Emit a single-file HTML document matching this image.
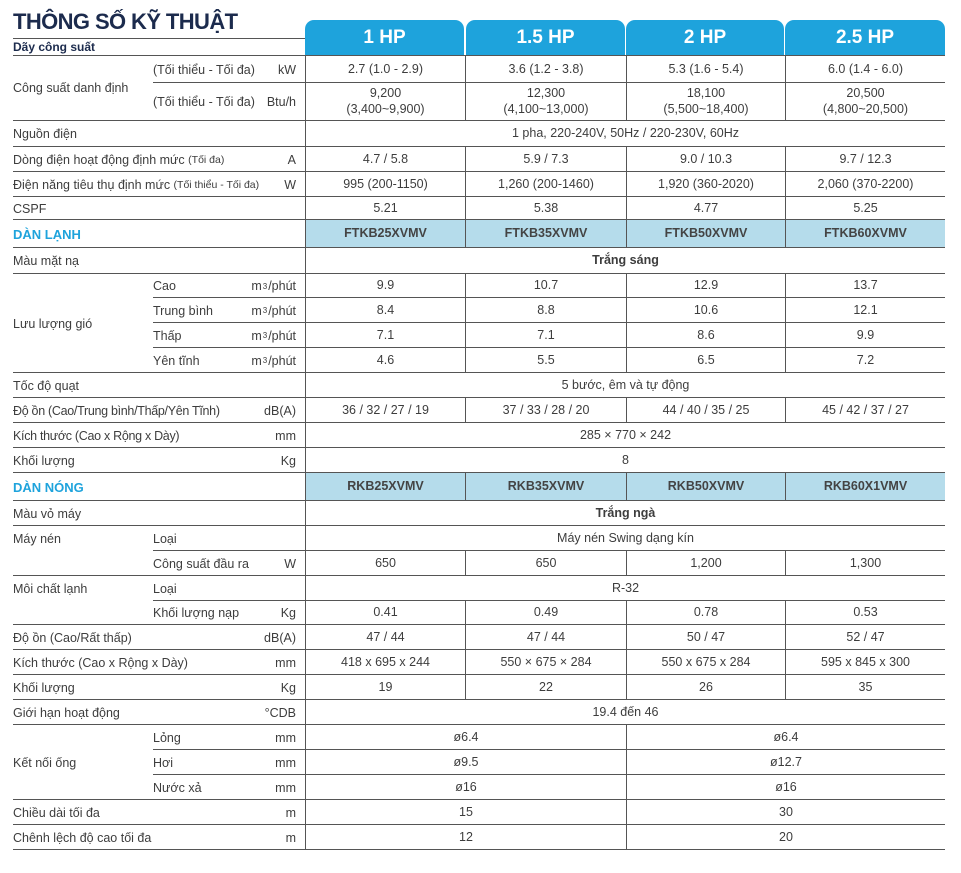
<!DOCTYPE html>
<html><head><meta charset="utf-8">
<style>
*{margin:0;padding:0;box-sizing:border-box}
body{width:961px;height:873px;background:#fff;position:relative;font-family:"Liberation Sans",sans-serif;color:#3d3d3d;font-size:12.5px;overflow:hidden}
div{position:absolute;white-space:nowrap}
.h{height:1px;background:#555;right:16px}
.f{left:13px}.s{left:153px}
.c{display:flex;align-items:center;justify-content:center;border-left:1px solid #555;text-align:center;line-height:1.25;padding-top:1px}
.a{left:305px;width:160px}.b{left:465px;width:161px}.d{left:626px;width:159px}.e{left:785px;width:160px}
.all{left:305px;width:640px}.h1{left:305px;width:321px}.h2{left:626px;width:319px}
.l{left:13px;display:flex;align-items:center;padding-top:1px}
.sl{left:153px;display:flex;align-items:center;padding-top:1px}
.u{right:665px;display:flex;align-items:center;padding-top:1px}
.m{background:#b5dceb;font-weight:bold;color:#444}
.hd{top:20px;height:35px;background:#1ea3dc;color:#fff;font-weight:bold;font-size:19px;display:flex;align-items:center;justify-content:center;border-radius:9px 9px 0 0}
.sec{color:#1ea3dc;font-weight:bold;font-size:13px}
sup{font-size:8px;vertical-align:6px;margin:0 1px}
small{font-size:10.5px}
</style></head><body>
<div style="left:13px;top:9px;font-size:22px;font-weight:bold;color:#1c2b4d;letter-spacing:-0.6px">THÔNG SỐ KỸ THUẬT</div>
<div style="left:13px;top:40px;font-size:12px;font-weight:bold;color:#1c2b4d">Dãy công suất</div>
<div class="h" style="left:13px;width:292px;top:38px"></div>
<div class="hd" style="left:305px;width:159px">1 HP</div>
<div class="hd" style="left:466px;width:159px">1.5 HP</div>
<div class="hd" style="left:626px;width:158px">2 HP</div>
<div class="hd" style="left:785px;width:160px">2.5 HP</div>

<div class="h f" style="top:55px"></div>
<div class="h s" style="top:82px"></div>
<div class="h f" style="top:120px"></div>
<div class="h f" style="top:146px"></div>
<div class="h f" style="top:171px"></div>
<div class="h f" style="top:196px"></div>
<div class="h f" style="top:219px"></div>
<div class="h f" style="top:247px"></div>
<div class="h f" style="top:273px"></div>
<div class="h s" style="top:297px"></div>
<div class="h s" style="top:322px"></div>
<div class="h s" style="top:347px"></div>
<div class="h f" style="top:372px"></div>
<div class="h f" style="top:397px"></div>
<div class="h f" style="top:422px"></div>
<div class="h f" style="top:447px"></div>
<div class="h f" style="top:472px"></div>
<div class="h f" style="top:500px"></div>
<div class="h f" style="top:525px"></div>
<div class="h s" style="top:550px"></div>
<div class="h f" style="top:575px"></div>
<div class="h s" style="top:600px"></div>
<div class="h f" style="top:624px"></div>
<div class="h f" style="top:649px"></div>
<div class="h f" style="top:674px"></div>
<div class="h f" style="top:699px"></div>
<div class="h f" style="top:724px"></div>
<div class="h s" style="top:749px"></div>
<div class="h s" style="top:774px"></div>
<div class="h f" style="top:799px"></div>
<div class="h f" style="top:824px"></div>
<div class="h f" style="top:849px"></div>

<div class="l" style="top:55px;height:65px">Công suất danh định</div>
<div class="sl" style="top:56px;height:26px">(Tối thiểu - Tối đa)</div><div class="u" style="top:56px;height:26px">kW</div>
<div class="sl" style="top:83px;height:37px">(Tối thiểu - Tối đa)</div><div class="u" style="top:83px;height:37px">Btu/h</div>
<div class="l" style="top:121px;height:25px">Nguồn điện</div>
<div class="l" style="top:147px;height:24px">Dòng điện hoạt động định mức&nbsp; <small>(Tối đa)</small></div><div class="u" style="top:147px;height:24px">A</div>
<div class="l" style="top:172px;height:24px">Điện năng tiêu thụ định mức&nbsp;<small>(Tối thiểu - Tối đa)</small></div><div class="u" style="top:172px;height:24px">W</div>
<div class="l" style="top:197px;height:22px">CSPF</div>
<div class="l sec" style="top:220px;height:27px">DÀN LẠNH</div>
<div class="l" style="top:248px;height:25px">Màu mặt nạ</div>
<div class="l" style="top:274px;height:98px">Lưu lượng gió</div>
<div class="sl" style="top:274px;height:23px">Cao</div><div class="u" style="top:274px;height:23px">m<sup>3</sup>/phút</div>
<div class="sl" style="top:298px;height:24px">Trung bình</div><div class="u" style="top:298px;height:24px">m<sup>3</sup>/phút</div>
<div class="sl" style="top:323px;height:24px">Thấp</div><div class="u" style="top:323px;height:24px">m<sup>3</sup>/phút</div>
<div class="sl" style="top:348px;height:24px">Yên tĩnh</div><div class="u" style="top:348px;height:24px">m<sup>3</sup>/phút</div>
<div class="l" style="top:373px;height:24px">Tốc độ quạt</div>
<div class="l" style="top:398px;height:24px;letter-spacing:-0.3px">Độ ồn (Cao/Trung bình/Thấp/Yên Tĩnh)</div><div class="u" style="top:398px;height:24px">dB(A)</div>
<div class="l" style="top:423px;height:24px;letter-spacing:-0.3px">Kích thước (Cao x Rộng x Dày)</div><div class="u" style="top:423px;height:24px">mm</div>
<div class="l" style="top:448px;height:24px">Khối lượng</div><div class="u" style="top:448px;height:24px">Kg</div>
<div class="l sec" style="top:473px;height:27px">DÀN NÓNG</div>
<div class="l" style="top:501px;height:24px">Màu vỏ máy</div>
<div class="l" style="top:526px;height:24px">Máy nén</div>
<div class="sl" style="top:526px;height:24px">Loại</div>
<div class="sl" style="top:551px;height:24px">Công suất đầu ra</div><div class="u" style="top:551px;height:24px">W</div>
<div class="l" style="top:576px;height:24px">Môi chất lạnh</div>
<div class="sl" style="top:576px;height:24px">Loại</div>
<div class="sl" style="top:601px;height:23px">Khối lượng nạp</div><div class="u" style="top:601px;height:23px">Kg</div>
<div class="l" style="top:625px;height:24px">Độ ồn (Cao/Rất thấp)</div><div class="u" style="top:625px;height:24px">dB(A)</div>
<div class="l" style="top:650px;height:24px">Kích thước (Cao x Rộng x Dày)</div><div class="u" style="top:650px;height:24px">mm</div>
<div class="l" style="top:675px;height:24px">Khối lượng</div><div class="u" style="top:675px;height:24px">Kg</div>
<div class="l" style="top:700px;height:24px">Giới hạn hoạt động</div><div class="u" style="top:700px;height:24px">°CDB</div>
<div class="l" style="top:725px;height:74px">Kết nối ống</div>
<div class="sl" style="top:725px;height:24px">Lỏng</div><div class="u" style="top:725px;height:24px">mm</div>
<div class="sl" style="top:750px;height:24px">Hơi</div><div class="u" style="top:750px;height:24px">mm</div>
<div class="sl" style="top:775px;height:24px">Nước xả</div><div class="u" style="top:775px;height:24px">mm</div>
<div class="l" style="top:800px;height:24px">Chiều dài tối đa</div><div class="u" style="top:800px;height:24px">m</div>
<div class="l" style="top:825px;height:24px">Chênh lệch độ cao tối đa</div><div class="u" style="top:825px;height:24px">m</div>

<div class="c a" style="top:56px;height:26px">2.7 (1.0 - 2.9)</div><div class="c b" style="top:56px;height:26px">3.6 (1.2 - 3.8)</div><div class="c d" style="top:56px;height:26px">5.3 (1.6 - 5.4)</div><div class="c e" style="top:56px;height:26px">6.0 (1.4 - 6.0)</div>
<div class="c a" style="top:83px;height:37px">9,200<br>(3,400~9,900)</div><div class="c b" style="top:83px;height:37px">12,300<br>(4,100~13,000)</div><div class="c d" style="top:83px;height:37px">18,100<br>(5,500~18,400)</div><div class="c e" style="top:83px;height:37px">20,500<br>(4,800~20,500)</div>
<div class="c all" style="top:121px;height:25px">1 pha, 220-240V, 50Hz / 220-230V, 60Hz</div>
<div class="c a" style="top:147px;height:24px">4.7 / 5.8</div><div class="c b" style="top:147px;height:24px">5.9 / 7.3</div><div class="c d" style="top:147px;height:24px">9.0 / 10.3</div><div class="c e" style="top:147px;height:24px">9.7 / 12.3</div>
<div class="c a" style="top:172px;height:24px">995 (200-1150)</div><div class="c b" style="top:172px;height:24px">1,260 (200-1460)</div><div class="c d" style="top:172px;height:24px">1,920 (360-2020)</div><div class="c e" style="top:172px;height:24px">2,060 (370-2200)</div>
<div class="c a" style="top:197px;height:22px">5.21</div><div class="c b" style="top:197px;height:22px">5.38</div><div class="c d" style="top:197px;height:22px">4.77</div><div class="c e" style="top:197px;height:22px">5.25</div>
<div class="c a m" style="top:220px;height:27px">FTKB25XVMV</div><div class="c b m" style="top:220px;height:27px">FTKB35XVMV</div><div class="c d m" style="top:220px;height:27px">FTKB50XVMV</div><div class="c e m" style="top:220px;height:27px">FTKB60XVMV</div>
<div class="c all" style="top:248px;height:25px;font-weight:bold">Trắng sáng</div>
<div class="c a" style="top:274px;height:23px">9.9</div><div class="c b" style="top:274px;height:23px">10.7</div><div class="c d" style="top:274px;height:23px">12.9</div><div class="c e" style="top:274px;height:23px">13.7</div>
<div class="c a" style="top:298px;height:24px">8.4</div><div class="c b" style="top:298px;height:24px">8.8</div><div class="c d" style="top:298px;height:24px">10.6</div><div class="c e" style="top:298px;height:24px">12.1</div>
<div class="c a" style="top:323px;height:24px">7.1</div><div class="c b" style="top:323px;height:24px">7.1</div><div class="c d" style="top:323px;height:24px">8.6</div><div class="c e" style="top:323px;height:24px">9.9</div>
<div class="c a" style="top:348px;height:24px">4.6</div><div class="c b" style="top:348px;height:24px">5.5</div><div class="c d" style="top:348px;height:24px">6.5</div><div class="c e" style="top:348px;height:24px">7.2</div>
<div class="c all" style="top:373px;height:24px">5 bước, êm và tự động</div>
<div class="c a" style="top:398px;height:24px">36 / 32 / 27 / 19</div><div class="c b" style="top:398px;height:24px">37 / 33 / 28 / 20</div><div class="c d" style="top:398px;height:24px">44 / 40 / 35 / 25</div><div class="c e" style="top:398px;height:24px">45 / 42 / 37 / 27</div>
<div class="c all" style="top:423px;height:24px">285 × 770 × 242</div>
<div class="c all" style="top:448px;height:24px">8</div>
<div class="c a m" style="top:473px;height:27px">RKB25XVMV</div><div class="c b m" style="top:473px;height:27px">RKB35XVMV</div><div class="c d m" style="top:473px;height:27px">RKB50XVMV</div><div class="c e m" style="top:473px;height:27px">RKB60X1VMV</div>
<div class="c all" style="top:501px;height:24px;font-weight:bold">Trắng ngà</div>
<div class="c all" style="top:526px;height:24px">Máy nén Swing dạng kín</div>
<div class="c a" style="top:551px;height:24px">650</div><div class="c b" style="top:551px;height:24px">650</div><div class="c d" style="top:551px;height:24px">1,200</div><div class="c e" style="top:551px;height:24px">1,300</div>
<div class="c all" style="top:576px;height:24px">R-32</div>
<div class="c a" style="top:601px;height:23px">0.41</div><div class="c b" style="top:601px;height:23px">0.49</div><div class="c d" style="top:601px;height:23px">0.78</div><div class="c e" style="top:601px;height:23px">0.53</div>
<div class="c a" style="top:625px;height:24px">47 / 44</div><div class="c b" style="top:625px;height:24px">47 / 44</div><div class="c d" style="top:625px;height:24px">50 / 47</div><div class="c e" style="top:625px;height:24px">52 / 47</div>
<div class="c a" style="top:650px;height:24px">418 x 695 x 244</div><div class="c b" style="top:650px;height:24px">550 × 675 × 284</div><div class="c d" style="top:650px;height:24px">550 x 675 x 284</div><div class="c e" style="top:650px;height:24px">595 x 845 x 300</div>
<div class="c a" style="top:675px;height:24px">19</div><div class="c b" style="top:675px;height:24px">22</div><div class="c d" style="top:675px;height:24px">26</div><div class="c e" style="top:675px;height:24px">35</div>
<div class="c all" style="top:700px;height:24px">19.4 đến 46</div>
<div class="c h1" style="top:725px;height:24px">ø6.4</div><div class="c h2" style="top:725px;height:24px">ø6.4</div>
<div class="c h1" style="top:750px;height:24px">ø9.5</div><div class="c h2" style="top:750px;height:24px">ø12.7</div>
<div class="c h1" style="top:775px;height:24px">ø16</div><div class="c h2" style="top:775px;height:24px">ø16</div>
<div class="c h1" style="top:800px;height:24px">15</div><div class="c h2" style="top:800px;height:24px">30</div>
<div class="c h1" style="top:825px;height:24px">12</div><div class="c h2" style="top:825px;height:24px">20</div>
</body></html>
